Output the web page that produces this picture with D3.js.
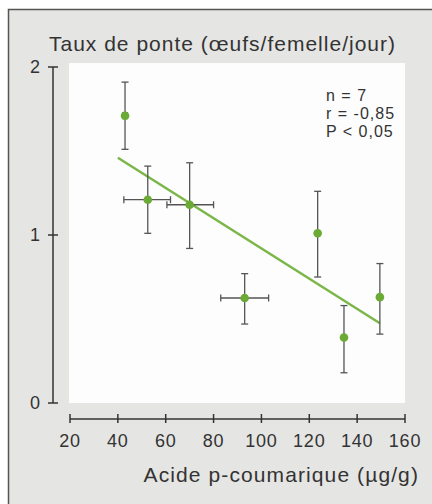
<!DOCTYPE html>
<html>
<head>
<meta charset="utf-8">
<script src="https://cdn.jsdelivr.net/npm/d3@7"></script>
<style>
  body { margin: 0; background: #ffffff; }
  svg { display: block; font-family: "Liberation Sans", Arial, sans-serif; }
</style>
</head>
<body>
<svg id="chart" width="432" height="504"></svg>
<script>
// data
let acide   = [43, 52.5, 70, 93, 123.5, 134.5, 149.5];
let taux    = [1.71, 1.21, 1.18, 0.625, 1.01, 0.39, 0.63];
let yLow    = [1.51, 1.01, 0.92, 0.47, 0.75, 0.18, 0.41];
let yHigh   = [1.91, 1.41, 1.43, 0.77, 1.26, 0.58, 0.83];
let xLow    = [42, 42.5, 60.5, 83, null, null, null];
let xHigh   = [44, 62, 80, 103, null, null, null];
let fitLine = [[40, 1.46], [149.5, 0.475]];
let xTicks  = [20, 40, 60, 80, 100, 120, 140, 160];
let yTicks  = [0, 1, 2];
let stats   = ["n = 7", "r = -0,85", "P < 0,05"];

let svg = d3.select("#chart");

// panel background with frame on top / left
svg.append("rect").attr("x", 8).attr("y", 9).attr("width", 424).attr("height", 495)
    .attr("fill", "#e5e5e3");
svg.append("path").attr("d", "M8.5,504V9.5H432")
    .attr("fill", "none").attr("stroke", "#555").attr("stroke-width", 1.5);

let x = d3.scaleLinear().domain([20, 160]).range([70, 405]);
let y = d3.scaleLinear().domain([0, 2]).range([403, 67]);

// white plot area
svg.append("rect").attr("x", 69).attr("y", 63).attr("width", 336).attr("height", 340)
    .attr("fill", "#fdfdfd");

// y axis
let yAxis = svg.append("g").attr("transform", "translate(53,0)");
yAxis.append("line").attr("y1", y(2)).attr("y2", y(0))
    .attr("stroke", "#333").attr("stroke-width", 1.5);
yAxis.selectAll(".tk").data(yTicks).enter().append("line")
    .attr("x1", -5).attr("x2", 5)
    .attr("y1", d => y(d)).attr("y2", d => y(d))
    .attr("stroke", "#333").attr("stroke-width", 1.5);
yAxis.selectAll(".lb").data(yTicks).enter().append("text")
    .attr("x", -13).attr("y", d => y(d)).attr("dy", "0.36em")
    .attr("text-anchor", "end").attr("font-size", 18).attr("fill", "#333")
    .text(d => d);

// x axis
let xAxis = svg.append("g").attr("transform", "translate(0,419)");
xAxis.append("line").attr("x1", x(20)).attr("x2", x(160))
    .attr("stroke", "#333").attr("stroke-width", 1.5);
xAxis.selectAll(".tk").data(xTicks).enter().append("line")
    .attr("x1", d => x(d)).attr("x2", d => x(d))
    .attr("y1", -5).attr("y2", 4)
    .attr("stroke", "#333").attr("stroke-width", 1.5);
xAxis.selectAll(".lb").data(xTicks).enter().append("text")
    .attr("x", d => x(d)).attr("y", 28)
    .attr("text-anchor", "middle").attr("font-size", 18).attr("letter-spacing", 0.8)
    .attr("fill", "#333")
    .text(d => d);

// titles
svg.append("text").attr("x", 49).attr("y", 51)
    .attr("font-size", 21).attr("letter-spacing", 1).attr("fill", "#333")
    .text("Taux de ponte (œufs/femelle/jour)");
svg.append("text").attr("x", 419).attr("y", 482).attr("text-anchor", "end")
    .attr("font-size", 21).attr("letter-spacing", 1.1).attr("fill", "#333")
    .text("Acide p-coumarique (µg/g)");

// stats
svg.selectAll(".st").data(stats).enter().append("text")
    .attr("x", 326).attr("y", (d, i) => 101 + i * 18)
    .attr("font-size", 16).attr("letter-spacing", 1).attr("fill", "#333")
    .text(d => d);

// regression line
svg.append("line")
    .attr("x1", x(fitLine[0][0])).attr("y1", y(fitLine[0][1]))
    .attr("x2", x(fitLine[1][0])).attr("y2", y(fitLine[1][1]))
    .attr("stroke", "#7ab648").attr("stroke-width", 2.5);

let pts = d3.range(acide.length);
let cap = 3.5;
let eb = svg.append("g").attr("stroke", "#555").attr("stroke-width", 1.3);

// error bars
pts.forEach(function(i) {
    let cx = x(acide[i]);
    eb.append("line").attr("x1", cx).attr("x2", cx).attr("y1", y(yLow[i])).attr("y2", y(yHigh[i]));
    eb.append("line").attr("x1", cx - cap).attr("x2", cx + cap).attr("y1", y(yLow[i])).attr("y2", y(yLow[i]));
    eb.append("line").attr("x1", cx - cap).attr("x2", cx + cap).attr("y1", y(yHigh[i])).attr("y2", y(yHigh[i]));
    if (xLow[i] != null) {
        let cy = y(taux[i]);
        eb.append("line").attr("x1", x(xLow[i])).attr("x2", x(xHigh[i])).attr("y1", cy).attr("y2", cy);
        eb.append("line").attr("x1", x(xLow[i])).attr("x2", x(xLow[i])).attr("y1", cy - cap).attr("y2", cy + cap);
        eb.append("line").attr("x1", x(xHigh[i])).attr("x2", x(xHigh[i])).attr("y1", cy - cap).attr("y2", cy + cap);
    }
});

// points
svg.selectAll(".dot").data(pts).enter().append("circle")
    .attr("cx", i => x(acide[i])).attr("cy", i => y(taux[i]))
    .attr("r", 4.3).attr("fill", "#6aaa35");
</script>
</body>
</html>
